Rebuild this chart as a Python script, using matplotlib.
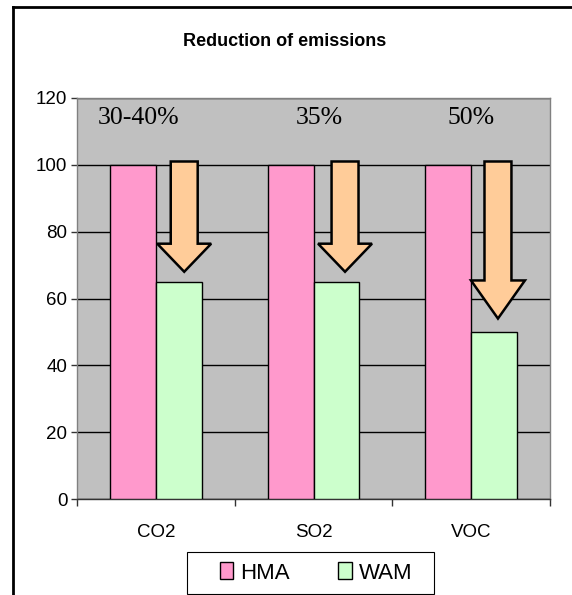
import matplotlib
matplotlib.use('Agg')
import matplotlib.pyplot as plt
import numpy as np
from matplotlib.patches import FancyArrow, Rectangle
from matplotlib.lines import Line2D

# Du lieu
categories = ['CO2', 'SO2', 'VOC']
hma = [100, 100, 100]
wam = [65, 65, 50]
reduction_labels = ['30-40%', '35%', '50%']
arrow_top = [101, 101, 101]
arrow_tip = [68, 68, 54]
yticks = [0, 20, 40, 60, 80, 100, 120]

plt.rcParams['font.family'] = ['Liberation Sans', 'DejaVu Sans']

fig = plt.figure(figsize=(5.72, 5.95), dpi=100)
ax = fig.add_axes([77/572, 1 - 499/595, (550-77)/572, (499-98)/595])

x = np.arange(len(categories))
w = 0.29
ax.set_facecolor('#C0C0C0')
ax.bar(x - w/2, hma, w, color='#FF99CC', edgecolor='black', linewidth=1, label='HMA', zorder=3)
ax.bar(x + w/2, wam, w, color='#CCFFCC', edgecolor='black', linewidth=1, label='WAM', zorder=3)

ax.set_xlim(-0.5, len(categories) - 0.5)
ax.set_ylim(0, 120)
ax.set_yticks(yticks)
ax.yaxis.grid(True, color='black', linewidth=1, zorder=1)
ax.set_axisbelow(True)

# minor ticks tai ranh gioi cac nhom
ax.set_xticks(x)
ax.set_xticklabels(categories)
ax.set_xticks(np.arange(len(categories) + 1) - 0.5, minor=True)
ax.tick_params(axis='x', which='major', length=0, pad=18, labelsize=13.5)
ax.tick_params(axis='x', which='minor', length=5, width=1, color='#333333')
ax.tick_params(axis='y', length=4, width=1, pad=3, labelsize=13.5, color='#333333')

for s in ['top', 'right', 'left']:
    ax.spines[s].set_color('#808080')
    ax.spines[s].set_linewidth(1)
ax.spines['bottom'].set_color('#333333')
ax.spines['bottom'].set_linewidth(1)

# mui ten giam phat thai
offsets = [0.18, 0.2, 0.17]
head_len = [8.4, 8.4, 11.4]
for i in range(len(categories)):
    xa = x[i] + offsets[i]
    arr = FancyArrow(xa, arrow_top[i], 0, arrow_tip[i] - arrow_top[i],
                     width=0.171, head_width=0.342, head_length=head_len[i],
                     length_includes_head=True, facecolor='#FFCC99',
                     edgecolor='black', linewidth=1.8, zorder=4)
    ax.add_patch(arr)

label_x = [-0.11, 1.04, 2.0]
for i, t in enumerate(reduction_labels):
    ax.text(label_x[i], 114, t, ha='center', va='center', fontsize=18.5,
            family=['Liberation Serif', 'DejaVu Serif'], zorder=5)

fig.text(285/572, 1 - 42/595, 'Reduction of emissions', ha='center', va='center',
         fontsize=13, fontweight='bold')

# chu giai + khung rieng
leg = fig.legend(loc='center', bbox_to_anchor=(316/572, 1 - 573/595), ncol=2,
                 fontsize=16, frameon=False,
                 handlelength=0.6, handleheight=0.8, handletextpad=0.3,
                 columnspacing=2.2, borderpad=0.2)
fig.add_artist(Rectangle((187/572, 1 - 594/595), 247/572, 42/595, transform=fig.transFigure,
                         facecolor='white', edgecolor='black', linewidth=0.8, zorder=0))

# khung ngoai
fig.add_artist(Line2D([13/572, 1], [1 - 7/595, 1 - 7/595], color='black', linewidth=2,
                      transform=fig.transFigure))
fig.add_artist(Line2D([13/572, 13/572], [1 - 7/595, 0], color='black', linewidth=2,
                      transform=fig.transFigure))

plt.savefig('out.png', dpi=100)
